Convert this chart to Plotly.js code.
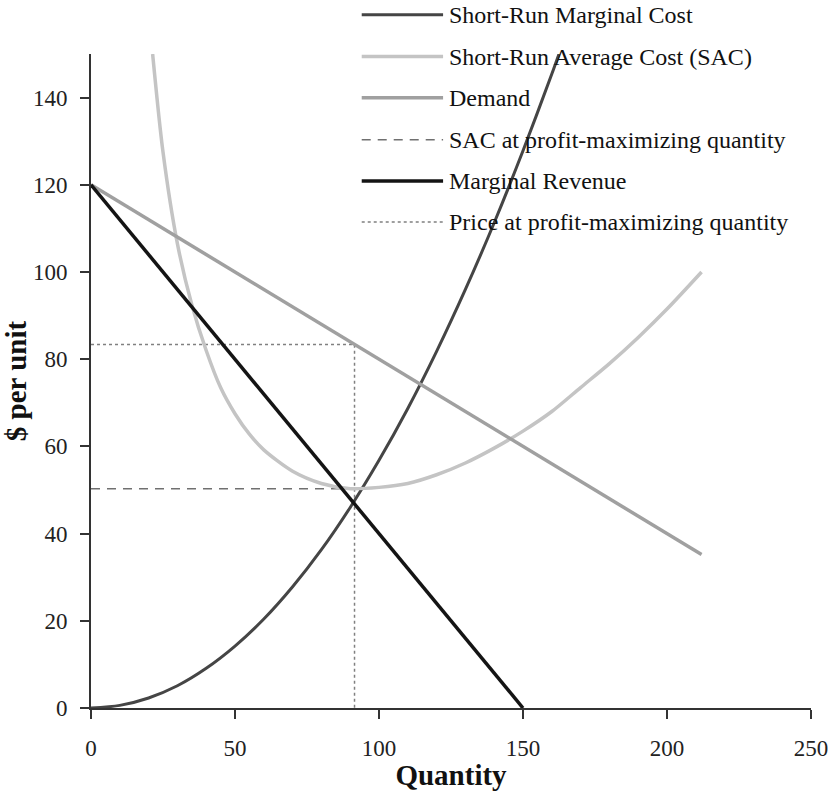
<!DOCTYPE html>
<html>
<head>
<meta charset="utf-8">
<script src="https://cdn.plot.ly/plotly-3.0.1.min.js"></script>
<style>html,body{margin:0;padding:0;background:#fff;}#chart{width:829px;height:791px;}</style>
</head>
<body>
<div id="chart"></div>
<script>
// ---- data ----
const seriesNames = [
  "Short-Run Marginal Cost",
  "Short-Run Average Cost (SAC)",
  "Demand",
  "SAC at profit-maximizing quantity",
  "Marginal Revenue",
  "Price at profit-maximizing quantity"
];
const mcQ    = [0, 10, 20, 30, 40, 50, 60, 70, 80, 90, 100, 110, 120, 130, 140, 150, 160, 162.5];
const mcCost = [0, 0.6, 2.3, 5.1, 9.1, 14.2, 20.4, 27.8, 36.3, 46, 56.8, 68.7, 81.8, 96, 111.3, 127.8, 145.4, 150];

const sacQ    = [21.4, 25, 30, 35, 40, 45, 50, 55, 60, 70, 80, 90, 100, 110, 120, 130, 140, 150, 160, 170, 180, 190, 200, 212];
const sacCost = [150, 127.5, 106.5, 92.5, 82, 73.5, 67.5, 62.8, 59.2, 54.3, 51.5, 50.3, 50.6, 51.5, 53.5, 56.2, 59.6, 63.5, 68, 73.5, 79, 85, 91.5, 100];

const demandQ = [0, 50, 100, 150, 212];
const demandP = [120, 100, 80, 60, 35.2];

const mrQ = [0, 50, 100, 150];
const mrV = [120, 80, 40, 0];

const sacAtQQ = [0, 91.5];
const sacAtQV = [50.3, 50.3];

const priceAtQQ = [0, 91.5, 91.5];
const priceAtQV = [83.4, 83.4, 0];

const xTicks = [0, 50, 100, 150, 200, 250];
const yTicks = [0, 20, 40, 60, 80, 100, 120, 140];

// ---- styles ----
const FONT = "'Liberation Serif', 'Times New Roman', serif";
const styles = [
  {color: '#454545', width: 3,   dash: 'solid'},
  {color: '#c4c4c4', width: 3.5, dash: 'solid'},
  {color: '#a0a0a0', width: 3.5, dash: 'solid'},
  {color: '#707070', width: 1.5, dash: '9px,7px'},
  {color: '#141414', width: 3.5, dash: 'solid'},
  {color: '#808080', width: 1.5, dash: 'dot'}
];
const xs = [mcQ, sacQ, demandQ, sacAtQQ, mrQ, priceAtQQ];
const ys = [mcCost, sacCost, demandP, sacAtQV, mrV, priceAtQV];

// draw order: reference lines first, then curves
const order = [5, 3, 0, 1, 2, 4];
const traces = order.map(i => ({
  type: 'scatter', mode: 'lines', name: seriesNames[i],
  x: xs[i], y: ys[i], showlegend: false, hoverinfo: 'skip',
  line: {color: styles[i].color, width: styles[i].width, dash: styles[i].dash,
         shape: (i === 0 || i === 1) ? 'spline' : 'linear', smoothing: 0.8}
}));

// custom legend (long line samples as in the reference)
const shapes = [];
const annotations = [];
const rowY = [1.060, 0.996, 0.933, 0.869, 0.806, 0.743];
seriesNames.forEach((nm, i) => {
  shapes.push({type: 'line', xref: 'paper', yref: 'paper', x0: 0.376, x1: 0.489, y0: rowY[i], y1: rowY[i],
    line: {color: styles[i].color, width: styles[i].width, dash: styles[i].dash}});
  annotations.push({xref: 'paper', yref: 'paper', x: 0.495, y: rowY[i], xanchor: 'left', yanchor: 'middle',
    text: nm, showarrow: false, font: {family: FONT, size: 24, color: '#111'}});
});

const layout = {
  width: 829, height: 791,
  margin: {l: 91, r: 18, t: 54, b: 83},
  paper_bgcolor: '#fff', plot_bgcolor: '#fff',
  font: {family: FONT, color: '#111'},
  showlegend: false,
  xaxis: {
    range: [0, 250], tickvals: xTicks, ticktext: xTicks.map(String),
    ticks: 'outside', ticklen: 9, tickwidth: 2, tickcolor: '#333',
    showline: true, linecolor: '#333', linewidth: 2,
    showgrid: false, zeroline: false,
    tickfont: {family: FONT, size: 23, color: '#222'},
    ticklabelstandoff: 9,
    title: {text: '<b>Quantity</b>', font: {family: FONT, size: 29, color: '#111'}, standoff: 4}
  },
  yaxis: {
    range: [0, 150], tickvals: yTicks, ticktext: yTicks.map(String),
    ticks: 'outside', ticklen: 9, tickwidth: 2, tickcolor: '#333',
    showline: true, linecolor: '#333', linewidth: 2,
    showgrid: false, zeroline: false,
    tickfont: {family: FONT, size: 23, color: '#222'},
    ticklabelstandoff: 8,
    title: {text: '<b>$ per unit</b>', font: {family: FONT, size: 29, color: '#111'}, standoff: 0}
  },
  shapes: shapes,
  annotations: annotations
};

Plotly.newPlot('chart', traces, layout, {displayModeBar: false, staticPlot: true});
</script>
</body>
</html>
